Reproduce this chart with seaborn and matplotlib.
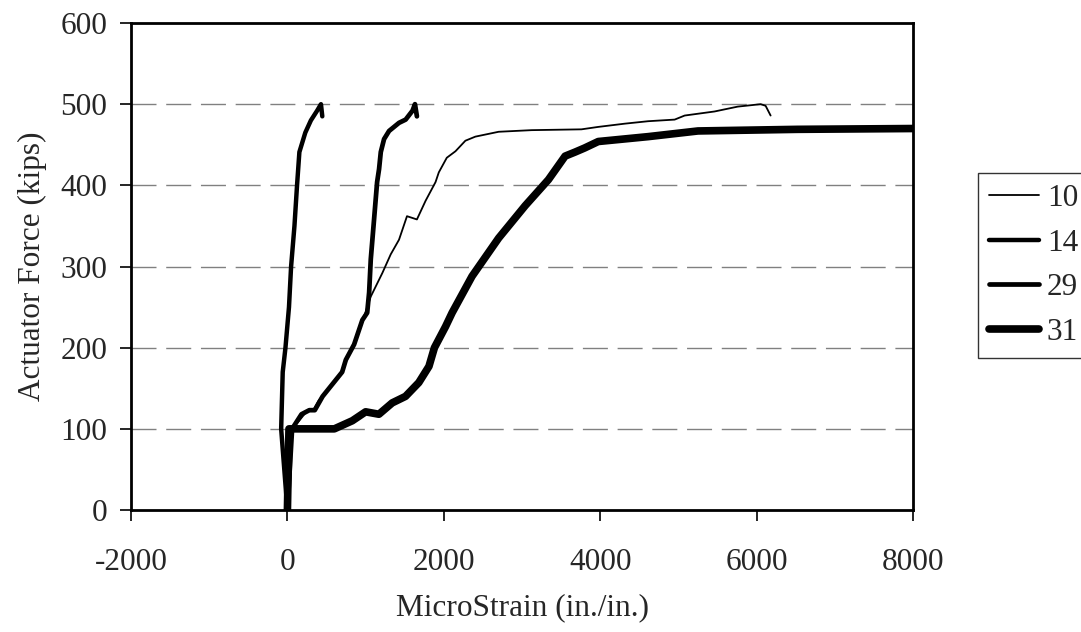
import matplotlib
matplotlib.use("Agg")
import matplotlib.pyplot as plt
import pandas as pd
import seaborn as sns

# --- data (microstrain, kips) ---
strain_10 = [0, 50, 150, 250, 330, 400, 660, 850, 958, 1066, 1214, 1321, 1427, 1529,
             1656, 1767, 1894, 1936, 2038, 2149, 2276, 2403, 2701, 3122, 3760, 3975,
             4315, 4612, 4952, 5080, 5462, 5759, 6052, 6115, 6179]
force_10 = [0, 100, 110, 122, 123, 135, 165, 203, 232, 263, 292, 315, 333, 362,
            358, 381, 404, 416, 434, 442, 455, 460, 466, 468, 469, 472,
            476, 479, 481, 486, 491, 497, 500, 498, 486]

strain_14 = [0, -40, -80, -60, -25, 20, 47, 90, 123, 153, 229, 300, 380, 429, 446]
force_14 = [0, 50, 100, 170, 200, 250, 300, 350, 400, 441, 465, 480, 492, 500, 485]

strain_29 = [0, 60, 180, 280, 350, 450, 700, 747, 853, 958, 1020, 1045, 1066, 1108,
             1147, 1172, 1194, 1236, 1300, 1427, 1512, 1600, 1631, 1656]
force_29 = [0, 100, 118, 123, 123, 140, 170, 185, 204, 234, 243, 268, 309, 358,
            404, 420, 441, 457, 467, 477, 481, 492, 500, 485]

strain_31 = [0, 20, 600, 830, 1000, 1170, 1340, 1510, 1680, 1810, 1880, 2022, 2106,
             2361, 2701, 3041, 3338, 3551, 3679, 3800, 3975, 4612, 5250, 6523, 8000]
force_31 = [0, 100, 100, 110, 121, 118, 132, 140, 157, 177, 200, 226, 243,
            288, 335, 375, 407, 436, 441, 446, 454, 460, 467, 469, 470]

series = {"10": (strain_10, force_10), "14": (strain_14, force_14),
          "29": (strain_29, force_29), "31": (strain_31, force_31)}
widths = {"10": 1.3, "14": 3.2, "29": 3.4, "31": 5.5}

x_ticks = [-2000, 0, 2000, 4000, 6000, 8000]
y_ticks = [0, 100, 200, 300, 400, 500, 600]

FS = 22.5

sns.set_theme(style="white")
plt.rcParams["font.family"] = ["Liberation Serif", "DejaVu Serif"]
plt.rcParams["font.size"] = FS

fig = plt.figure(figsize=(10.81, 6.32), dpi=100)
ax = fig.add_axes([0.1212, 0.193, 0.8446 - 0.1212, 0.9636 - 0.193])

for name, (xs, ys) in series.items():
    df = pd.DataFrame({"strain": xs, "force": ys})
    sns.lineplot(data=df, x="strain", y="force", sort=False, estimator=None,
                 color="black", lw=widths[name], label=name, ax=ax,
                 solid_capstyle="round", solid_joinstyle="round", legend=False)

ax.set_xlim(-2000, 8000)
ax.set_ylim(0, 600)
ax.set_xticks(x_ticks)
ax.set_yticks(y_ticks)
ax.set_xticklabels([str(t) for t in x_ticks], fontsize=FS)
ax.set_yticklabels([str(t) for t in y_ticks], fontsize=FS)
ax.tick_params(axis="both", direction="out", length=8, width=1.2, color="black",
               bottom=True, left=True)
ax.tick_params(axis="x", pad=19)
ax.tick_params(axis="y", pad=9)
for yv in y_ticks[1:-1]:
    ax.axhline(yv, color="#808080", lw=1, ls=(0, (18, 7)), zorder=0)
for sp in ax.spines.values():
    sp.set_color("black")
    sp.set_linewidth(2)

ax.set_xlabel("MicroStrain (in./in.)", fontsize=FS, labelpad=12)
ax.set_ylabel("Actuator Force (kips)", fontsize=FS, labelpad=10)

handles, labels = ax.get_legend_handles_labels()
leg = fig.legend(handles, labels, loc="upper left",
                 bbox_to_anchor=(978 / 1081, 1 - 173 / 632),
                 frameon=True, fancybox=False, fontsize=FS,
                 handlelength=1.6, handletextpad=0.25, labelspacing=0.5,
                 borderpad=0.35, borderaxespad=0)
leg.get_frame().set_edgecolor("black")
leg.get_frame().set_linewidth(1)

fig.savefig("out.png", dpi=100)
